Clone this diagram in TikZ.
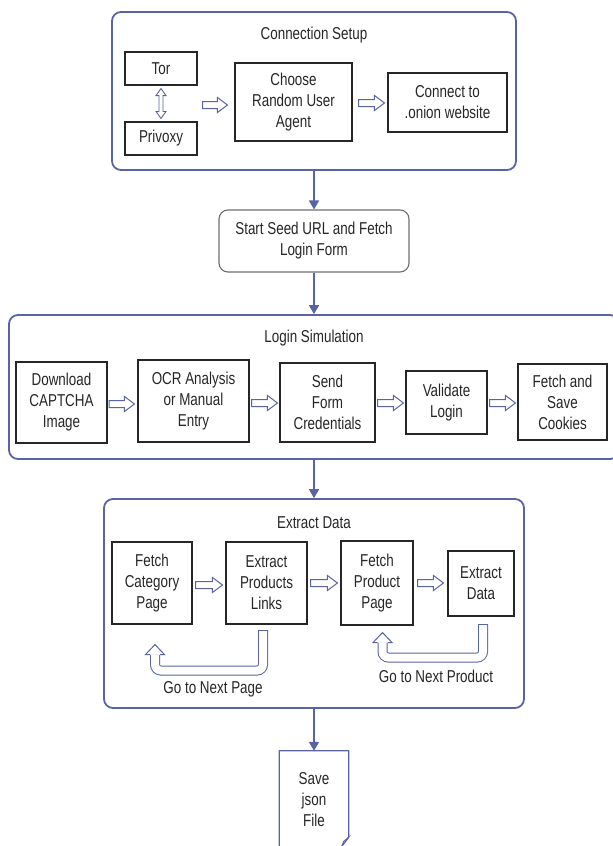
\documentclass[tikz,border=0pt]{standalone}
\usepackage{fontspec}
\setmainfont[FakeStretch=0.78]{Liberation Sans}
\usetikzlibrary{arrows.meta,calc}
\definecolor{flowblue}{RGB}{89,99,166}
\definecolor{boxgray}{RGB}{110,110,110}

\newcommand{\blockto}[2]{%
  \draw[hollow] let \p1=#1, \p2=#2 in
    (\x1,\y1+3.5pt) -- (\x2-10pt,\y1+3.5pt) -- (\x2-10pt,\y1+7.5pt) -- (\x2,\y1)
    -- (\x2-10pt,\y1-7.5pt) -- (\x2-10pt,\y1-3.5pt) -- (\x1,\y1-3.5pt) -- cycle;}

\begin{document}
\begin{tikzpicture}[x=1pt,y=-1pt,
    font=\fontsize{17.2}{21}\selectfont,text=black!85,
    group/.style={draw=flowblue,line width=1.8pt,rounded corners=9pt,inner sep=0pt},
    stepbox/.style={draw=black!85,line width=1.1pt,align=center,inner sep=0pt},
    hollow/.style={draw=flowblue,fill=white,line width=1pt,line join=miter},
    link/.style={draw=flowblue,line width=1.6pt,-{Triangle[width=10pt,length=9pt]}},
    band/.style={draw=flowblue,double=white,double distance=8pt,line width=1pt,rounded corners=6pt}]
        \useasboundingbox(0,0)rectangle(613,846);
        \clip(0,0)rectangle(613,846);

        \node[group,minimum width=404pt,minimum height=158pt](setup)at(314,91){};
        \node(setuptitle)at(314,35){Connection Setup};
        \node[stepbox,minimum width=72pt,minimum height=33pt](tor)at(161,68.5){Tor};
        \node[stepbox,minimum width=72pt,minimum height=33pt](privoxy)at(161,138.5){Privoxy};
        \node[stepbox,minimum width=117pt,minimum height=78pt](agent)at(293.5,102){Choose\\Random User\\Agent};
        \node[stepbox,minimum width=119pt,minimum height=59pt](onion)at(447.5,102.5){Connect to\\.onion website};

        \draw[hollow,line width=0.9pt]let \p1=($(tor.south)+(0,3)$), \p2=($(privoxy.north)+(0,-3)$) in
            (\x1,\y1)--(\x1+5pt,\y1-7pt)--(\x1+2pt,\y1-7pt)--(\x2+2pt,\y2+7pt)--(\x2+5pt,\y2+7pt)
            --(\x2,\y2)--(\x2-5pt,\y2+7pt)--(\x2-2pt,\y2+7pt)--(\x1-2pt,\y1-7pt)--(\x1-5pt,\y1-7pt)--cycle;
        \blockto{($(tor.east|-agent.west)+(5,3)$)}{($(agent.west)+(-7,3)$)}
        \blockto{($(agent.east)+(6,1)$)}{($(onion.west)+(-3,1)$)}

        \node[draw=boxgray,line width=1.1pt,rounded corners=9pt,align=center,
            minimum width=190pt,minimum height=62pt](start)at(314,241){Start Seed URL and Fetch\\Login Form};

        \node[group,minimum width=610pt,minimum height=144pt](login)at(314,387){};
        \node(logintitle)at(314,338){Login Simulation};
        \node[stepbox,minimum width=91pt,minimum height=81pt](captcha)at(61.5,402.5){Download\\CAPTCHA\\Image};
        \node[stepbox,minimum width=111pt,minimum height=82pt](ocr)at(193.5,401){OCR Analysis\\or Manual\\Entry};
        \node[stepbox,minimum width=95pt,minimum height=79pt](send)at(327.5,402.5){Send\\Form\\Credentials};
        \node[stepbox,minimum width=81pt,minimum height=63pt](validate)at(446.5,402.5){Validate\\Login};
        \node[stepbox,minimum width=89pt,minimum height=76pt](cookies)at(562.5,402){Fetch and\\Save\\Cookies};

        \blockto{($(captcha.east)+(1.5,1.5)$)}{($(ocr.west)+(-3,0)$)}
        \blockto{($(ocr.east)+(2,2)$)}{($(send.west)+(-2,0)$)}
        \blockto{($(send.east)+(2,0.5)$)}{($(validate.west)+(-2,0)$)}
        \blockto{($(validate.east)+(2,0.5)$)}{($(cookies.west)+(-2,0)$)}

        \node[group,minimum width=420pt,minimum height=209pt](extract)at(314,603.5){};
        \node(extracttitle)at(314,523){Extract Data};
        \node[stepbox,minimum width=80pt,minimum height=82pt](category)at(152,583){Fetch\\Category\\Page};
        \node[stepbox,minimum width=81pt,minimum height=82pt](links)at(266.5,583){Extract\\Products\\Links};
        \node[stepbox,minimum width=72pt,minimum height=84pt](product)at(377,583){Fetch\\Product\\Page};
        \node[stepbox,minimum width=66pt,minimum height=65pt](data)at(481,583.5){Extract\\Data};

        \blockto{($(category.east)+(3,2)$)}{($(links.west)+(-3,0)$)}
        \blockto{($(links.east)+(3,0)$)}{($(product.west)+(-3,0)$)}
        \blockto{($(product.east)+(4,0)$)}{($(data.west)+(-4,0)$)}

        \draw[band]($(links.south)+(-3.5,6)$)coordinate(l1)--++(0,40)--($(category.south)+(3,46)$)--($(category.south)+(3,30)$)coordinate(h1);
        \draw[draw=flowblue,line width=1pt]($(l1)+(-5,0)$)--($(l1)+(5,0)$);
        \draw[hollow]($(h1)+(-5,0)$)--++(-4.5,0)--++(9.5,-10)--++(9.5,10)--++(-4.5,0);
        \node(nextpage)at(213,689){Go to Next Page};

        \draw[band]($(data.south)+(2,8)$)coordinate(l2)--++(0,33)--($(product.south)+(5.5,32)$)--($(product.south)+(5.5,17)$)coordinate(h2);
        \draw[draw=flowblue,line width=1pt]($(l2)+(-5,0)$)--($(l2)+(5,0)$);
        \draw[hollow]($(h2)+(-5,0)$)--++(-4.5,0)--++(9.5,-10)--++(9.5,10)--++(-4.5,0);
        \node(nextproduct)at(436,676){Go to Next Product};

        \node[minimum width=69pt,minimum height=98pt,align=center,inner sep=0pt](save)at(314,800){Save\\json\\File};
        \draw[draw=flowblue,line width=1.3pt]($(save.south west)+(0,5)$)--(save.north west)--(save.north east)
            --($(save.south east)+(0,-12)$)--($(save.south east)+(-10,1)$);
        \filldraw[draw=flowblue,fill=flowblue!35,line width=0.8pt]($(save.south east)+(0,-12)$)--($(save.south east)+(-7,-3)$)--($(save.south east)+(-5,-8)$)--cycle;

        \draw[link](setup.south)--(start.north);
        \draw[link](start.south)--(login.north);
        \draw[link](login.south)--(extract.north);
        \draw[link](extract.south)--(save.north);
    \end{tikzpicture}
\end{document}
